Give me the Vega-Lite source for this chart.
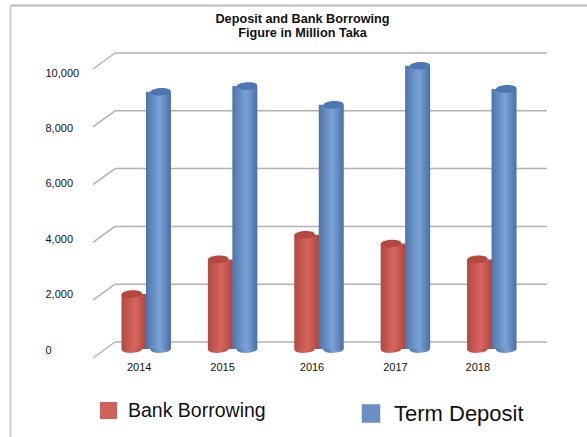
{
  "$schema": "https://vega.github.io/schema/vega-lite/v6.json",
  "autosize": "none",
  "padding": {"left": 10, "top": 5, "right": 0, "bottom": 0},
  "width": 577,
  "height": 432,
  "background": "white",
  "view": {"stroke": null, "fill": "white"},
  "title": {
    "text": ["Deposit and Bank Borrowing", "Figure in Million Taka"],
    "anchor": "middle",
    "frame": "group",
    "orient": "top",
    "baseline": "top",
    "offset": -35,
    "dx": 4,
    "font": "Liberation Sans",
    "fontSize": 12.7,
    "fontWeight": "bold",
    "lineHeight": 14.5,
    "color": "#111111"
  },
  "datasets": {
    "rows": [
      {"year": "2014", "series": "Bank Borrowing", "value": 1900},
      {"year": "2014", "series": "Term Deposit", "value": 8900},
      {"year": "2015", "series": "Bank Borrowing", "value": 3100},
      {"year": "2015", "series": "Term Deposit", "value": 9100},
      {"year": "2016", "series": "Bank Borrowing", "value": 3950},
      {"year": "2016", "series": "Term Deposit", "value": 8450},
      {"year": "2017", "series": "Bank Borrowing", "value": 3650},
      {"year": "2017", "series": "Term Deposit", "value": 9800},
      {"year": "2018", "series": "Bank Borrowing", "value": 3100},
      {"year": "2018", "series": "Term Deposit", "value": 9000}
    ],
    "ticks": [{"tick": 0}, {"tick": 2000}, {"tick": 4000}, {"tick": 6000}, {"tick": 8000}, {"tick": 10000}],
    "names": [{"series": "Bank Borrowing"}, {"series": "Term Deposit"}]
  },
  "resolve": {"scale": {"x": "independent", "y": "independent", "xOffset": "independent", "fill": "independent", "size": "independent", "color": "independent"}, "axis": {"x": "independent", "y": "independent"}},
  "layer": [
    {
      "description": "outer frame along the top and left edges",
      "data": {"name": "ticks"},
      "mark": {"type": "rule", "opacity": 0},
      "encoding": {
        "x": {"datum": 0, "type": "quantitative", "scale": {"domain": [0, 1]}, "axis": {"orient": "top", "title": null, "labels": false, "ticks": false, "grid": false, "domainColor": "#b9b9b9", "domainWidth": 2}},
        "y": {"datum": 0, "type": "quantitative", "scale": {"domain": [0, 1]}, "axis": {"orient": "left", "title": null, "labels": false, "ticks": false, "grid": false, "domainColor": "#cfcfcf", "domainWidth": 2}}
      }
    },
    {
      "description": "back wall gridlines",
      "data": {"name": "ticks"},
      "mark": {"type": "rule", "color": "#b4b1b0", "strokeWidth": 1.5, "xOffset": 22, "x2Offset": 22, "yOffset": -7},
      "encoding": {
        "x": {"datum": 0, "type": "quantitative", "scale": {"domain": [0, 1], "range": [83, 515]}, "axis": null},
        "x2": {"datum": 1},
        "y": {"field": "tick", "type": "quantitative", "scale": {"domain": [-3045, 11903], "nice": false, "zero": false}, "axis": null}
      }
    },
    {
      "description": "left side wall, receding from front to back",
      "data": {"name": "ticks"},
      "mark": {"type": "rule", "color": "#b4b1b0", "strokeWidth": 1.5, "xOffset": 0, "x2Offset": 22, "yOffset": 9, "y2Offset": -7},
      "encoding": {
        "x": {"datum": 0, "type": "quantitative", "scale": {"domain": [0, 1], "range": [83, 515]}, "axis": null},
        "x2": {"datum": 0},
        "y": {"field": "tick", "type": "quantitative", "scale": {"domain": [-3045, 11903], "nice": false, "zero": false}, "axis": null},
        "y2": {"field": "tick"}
      }
    },
    {
      "description": "front vertical edge",
      "mark": {"type": "rule", "color": "#b4b1b0", "strokeWidth": 1.5, "yOffset": 9, "y2Offset": 9},
      "encoding": {
        "x": {"datum": 0, "type": "quantitative", "scale": {"domain": [0, 1], "range": [83, 515]}, "axis": null},
        "y": {"datum": 0, "type": "quantitative", "scale": {"domain": [-3045, 11903], "nice": false, "zero": false}, "axis": null},
        "y2": {"datum": 10000}
      }
    },
    {
      "description": "front edge of the floor",
      "mark": {"type": "rule", "color": "#b4b1b0", "strokeWidth": 1.5, "yOffset": 9},
      "encoding": {
        "x": {"datum": 0, "type": "quantitative", "scale": {"domain": [0, 1], "range": [83, 515]}, "axis": null},
        "x2": {"datum": 1},
        "y": {"datum": 0, "type": "quantitative", "scale": {"domain": [-3045, 11903], "nice": false, "zero": false}, "axis": null}
      }
    },
    {
      "description": "right edge of the floor",
      "mark": {"type": "rule", "color": "#b4b1b0", "strokeWidth": 1.5, "xOffset": 0, "x2Offset": 22, "yOffset": 9, "y2Offset": -7},
      "encoding": {
        "x": {"datum": 1, "type": "quantitative", "scale": {"domain": [0, 1], "range": [83, 515]}, "axis": null},
        "x2": {"datum": 1},
        "y": {"datum": 0, "type": "quantitative", "scale": {"domain": [-3045, 11903], "nice": false, "zero": false}, "axis": null},
        "y2": {"datum": 0}
      }
    },
    {
      "description": "value labels on the front edge",
      "data": {"name": "ticks"},
      "mark": {"type": "rule", "opacity": 0},
      "encoding": {
        "y": {
          "field": "tick",
          "type": "quantitative",
          "scale": {"domain": [-3140, 12455], "nice": false, "zero": false},
          "axis": {
            "orient": "left",
            "title": null,
            "values": [0, 2000, 4000, 6000, 8000, 10000],
            "labelExpr": "format(datum.value, ',')",
            "offset": -35,
            "domain": false,
            "ticks": false,
            "grid": false,
            "labelAlign": "left",
            "labelPadding": 0,
            "labelFont": "Liberation Sans",
            "labelFontSize": 11,
            "labelColor": "#111111"
          }
        }
      }
    },
    {
      "description": "rounded cylinder bases",
      "data": {"name": "rows"},
      "mark": {"type": "point", "filled": true, "opacity": 1, "shape": "M-1,0C-1,-0.5,1,-0.5,1,0C1,0.5,-1,0.5,-1,0Z", "size": 420, "angle": -3},
      "encoding": {
        "x": {"field": "year", "type": "nominal", "scale": {"range": [93, 525], "paddingInner": 0, "paddingOuter": 0}, "axis": null},
        "xOffset": {"field": "series", "type": "nominal", "scale": {"type": "point", "padding": 1.265, "domain": ["Bank Borrowing", "Term Deposit"]}},
        "y": {"datum": 0, "type": "quantitative", "scale": {"domain": [-3045, 11903], "nice": false, "zero": false}, "axis": null},
        "fill": {
          "condition": {"test": "datum.series === 'Bank Borrowing'", "value": {"gradient": "linear", "stops": [{"offset": 0, "color": "#b04a43"}, {"offset": 0.55, "color": "#d9655f"}, {"offset": 1, "color": "#a9463f"}]}},
          "value": {"gradient": "linear", "stops": [{"offset": 0, "color": "#4f74ab"}, {"offset": 0.55, "color": "#7ba3d8"}, {"offset": 1, "color": "#4a6ea5"}]}
        }
      }
    },
    {
      "description": "cylinder bodies",
      "data": {"name": "rows"},
      "mark": {"type": "bar", "width": 25},
      "encoding": {
        "x": {
          "field": "year",
          "type": "nominal",
          "scale": {"range": [93, 525], "paddingInner": 0, "paddingOuter": 0},
          "axis": {
            "orient": "bottom",
            "title": null,
            "offset": -76,
            "domain": false,
            "ticks": false,
            "grid": false,
            "labelAngle": 0,
            "labelPadding": 0,
            "labelBaseline": "top",
            "labelOffset": {"condition": [
              {"test": "datum.value === '2014'", "value": -7},
              {"test": "datum.value === '2015'", "value": -10},
              {"test": "datum.value === '2016'", "value": -7},
              {"test": "datum.value === '2017'", "value": -10}
            ], "value": -14},
            "labelFont": "Liberation Sans",
            "labelFontSize": 11,
            "labelColor": "#111111"
          }
        },
        "xOffset": {"field": "series", "type": "nominal", "scale": {"domain": ["Bank Borrowing", "Term Deposit"], "paddingOuter": 0.765, "paddingInner": 0}},
        "y": {"field": "value", "type": "quantitative", "scale": {"domain": [-3045, 11903], "nice": false, "zero": false}, "axis": null},
        "y2": {"datum": 0},
        "fill": {
          "condition": {"test": "datum.series === 'Bank Borrowing'", "value": {"gradient": "linear", "stops": [{"offset": 0, "color": "#b04a43"}, {"offset": 0.55, "color": "#d9655f"}, {"offset": 1, "color": "#a9463f"}]}},
          "value": {"gradient": "linear", "stops": [{"offset": 0, "color": "#4f74ab"}, {"offset": 0.55, "color": "#7ba3d8"}, {"offset": 1, "color": "#4a6ea5"}]}
        }
      }
    },
    {
      "description": "cylinder tops",
      "data": {"name": "rows"},
      "mark": {"type": "point", "filled": true, "opacity": 1, "shape": "M-1,0C-1,-0.5,1,-0.5,1,0C1,0.5,-1,0.5,-1,0Z", "size": 420, "angle": -3},
      "encoding": {
        "x": {"field": "year", "type": "nominal", "scale": {"range": [93, 525], "paddingInner": 0, "paddingOuter": 0}, "axis": null},
        "xOffset": {"field": "series", "type": "nominal", "scale": {"type": "point", "padding": 1.265, "domain": ["Bank Borrowing", "Term Deposit"]}},
        "y": {"field": "value", "type": "quantitative", "scale": {"domain": [-3045, 11903], "nice": false, "zero": false}, "axis": null},
        "fill": {
          "condition": {"test": "datum.series === 'Bank Borrowing'", "value": "#b5473f"},
          "value": "#4d77b3"
        }
      }
    },
    {
      "description": "key swatches",
      "data": {"name": "names"},
      "mark": {"type": "point", "filled": true, "opacity": 1, "shape": "square"},
      "encoding": {
        "x": {"field": "series", "type": "nominal", "scale": {"type": "point", "padding": 0, "domain": ["Bank Borrowing", "Term Deposit"], "range": [98.5, 361]}, "axis": null},
        "y": {"field": "series", "type": "nominal", "scale": {"type": "point", "padding": 0, "domain": ["Bank Borrowing", "Term Deposit"], "range": [405.5, 408.5]}, "axis": null},
        "size": {"condition": {"test": "datum.series === 'Bank Borrowing'", "value": 289}, "value": 342},
        "fill": {"condition": {"test": "datum.series === 'Bank Borrowing'", "value": "#d0625c"}, "value": "#6a8fc3"}
      }
    },
    {
      "description": "key labels",
      "data": {"name": "names"},
      "mark": {"type": "text", "align": "left", "baseline": "alphabetic", "font": "Liberation Sans", "color": "#111111"},
      "encoding": {
        "x": {"field": "series", "type": "nominal", "scale": {"type": "point", "padding": 0, "domain": ["Bank Borrowing", "Term Deposit"], "range": [118, 384]}, "axis": null},
        "y": {"field": "series", "type": "nominal", "scale": {"type": "point", "padding": 0, "domain": ["Bank Borrowing", "Term Deposit"], "range": [412, 416]}, "axis": null},
        "text": {"field": "series"},
        "size": {"condition": {"test": "datum.series === 'Bank Borrowing'", "value": 19.5}, "value": 22}
      }
    }
  ]
}
